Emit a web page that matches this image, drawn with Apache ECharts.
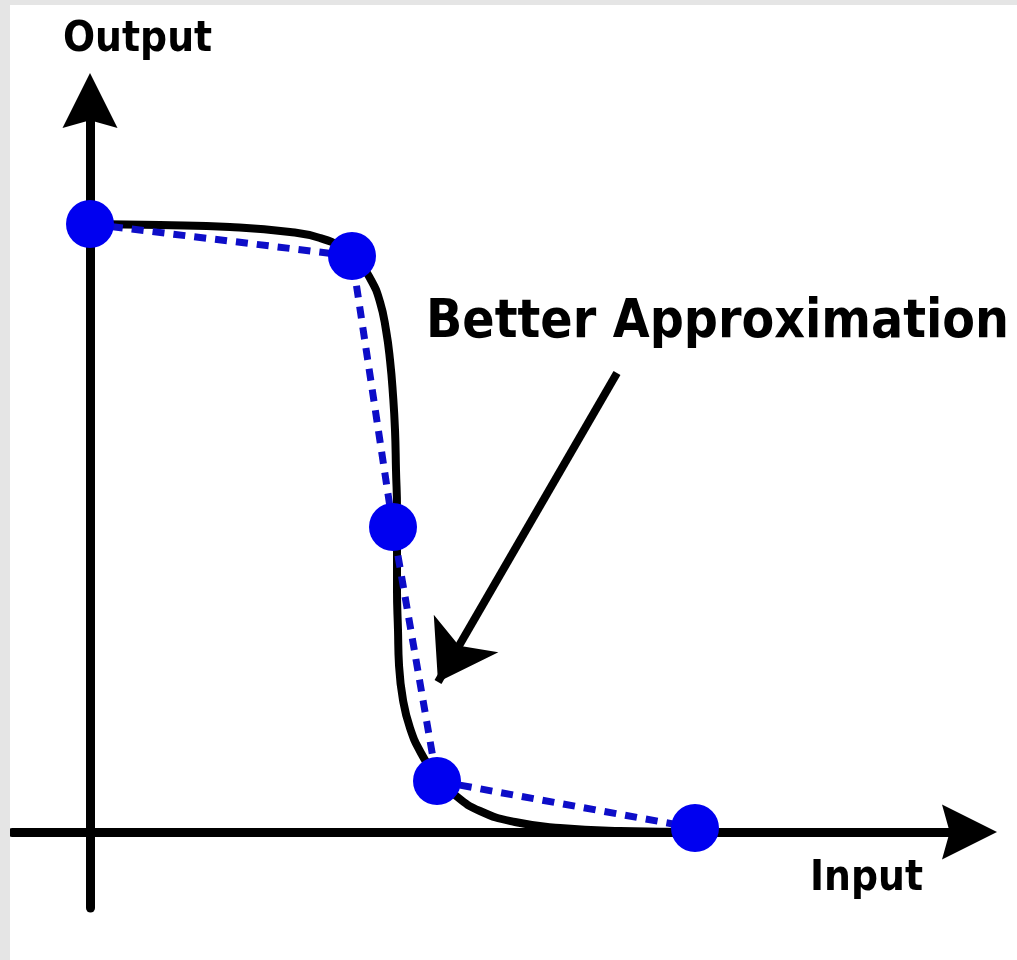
<!DOCTYPE html>
<html>
<head>
<meta charset="utf-8">
<title>Better Approximation</title>
<script src="https://cdn.jsdelivr.net/npm/echarts@6/dist/echarts.min.js"></script>
<style>
  body { margin: 0; background: #e5e5e5; }
  #main { position: absolute; left: 10px; top: 5px; width: 1007px; height: 955px; background: #fff; }
</style>
</head>
<body>
<div id="main"></div>
<script>
  // true curve (black)
  const curveX = [0, 0.7, 1.4, 2.0, 2.3, 2.52, 2.68, 2.81, 2.9, 2.96, 3.0, 3.03, 3.05, 3.06, 3.07, 3.07, 3.07, 3.08, 3.09, 3.13, 3.2, 3.31, 3.46, 3.65, 3.9, 4.25, 4.7, 5.3, 6.1];
  const curveY = [6.08, 6.07, 6.05, 6.0, 5.94, 5.84, 5.7, 5.52, 5.3, 5.02, 4.72, 4.37, 4.02, 3.62, 3.22, 2.82, 2.42, 2.02, 1.67, 1.32, 1.04, 0.79, 0.57, 0.37, 0.21, 0.1, 0.04, 0.01, 0];

  // sample points joined by the dashed approximation
  const sampleX = [0, 2.62, 3.03, 3.47, 6.05];
  const sampleY = [6.08, 5.76, 3.05, 0.51, 0.04];

  // annotation arrow: start and tip
  const arrowFrom = [5.27, 4.59];
  const arrowTo = [3.48, 1.5];

  const labelOutput = 'Output';
  const labelInput = 'Input';
  const labelNote = 'Better Approximation';

  const font = '"DejaVu Sans Condensed", "DejaVu Sans", sans-serif';
  const arrowHead = 'path://M5,0 L10,10 L5,8.6 L0,10 Z';

  let myChart = echarts.init(document.getElementById('main'));

  myChart.setOption({
    animation: false,
    grid: { left: 2, right: 47.5, top: 95.5, bottom: 52 },
    xAxis: {
      type: 'value',
      min: -0.78,
      max: 8.795,
      axisLine: {
        onZero: true,
        symbol: ['none', arrowHead],
        symbolSize: [57, 55],
        lineStyle: { color: '#000', width: 9 }
      },
      axisTick: { show: false },
      axisLabel: { show: false },
      splitLine: { show: false }
    },
    yAxis: {
      type: 'value',
      min: -0.76,
      max: 7.315,
      axisLine: {
        onZero: true,
        symbol: ['none', arrowHead],
        symbolSize: [57, 55],
        lineStyle: { color: '#000', width: 9 }
      },
      axisTick: { show: false },
      axisLabel: { show: false },
      splitLine: { show: false }
    },
    graphic: [
      { type: 'text', left: 53, top: 14, style: { text: labelOutput, font: 'bold 42px ' + font, fill: '#000' } },
      { type: 'text', left: 800, top: 853, style: { text: labelInput, font: 'bold 42px ' + font, fill: '#000' } },
      { type: 'text', left: 416, top: 292, style: { text: labelNote, font: 'bold 53px ' + font, fill: '#000' } }
    ],
    series: [
      {
        name: 'curve',
        type: 'line',
        data: curveX.map((x, i) => [x, curveY[i]]),
        smooth: 0.5,
        showSymbol: false,
        lineStyle: { color: '#000', width: 8 },
        markLine: {
          silent: true,
          symbol: ['none', 'arrow'],
          symbolSize: 56,
          label: { show: false },
          lineStyle: { color: '#000', width: 8, type: 'solid' },
          data: [[{ coord: arrowFrom }, { coord: arrowTo }]]
        }
      },
      {
        name: 'approx',
        type: 'line',
        data: sampleX.map((x, i) => [x, sampleY[i]]),
        symbol: 'circle',
        symbolSize: 48,
        itemStyle: { color: '#0000f0' },
        lineStyle: { color: '#0d0dc8', width: 7, type: [12, 9] }
      }
    ]
  });
</script>
</body>
</html>
